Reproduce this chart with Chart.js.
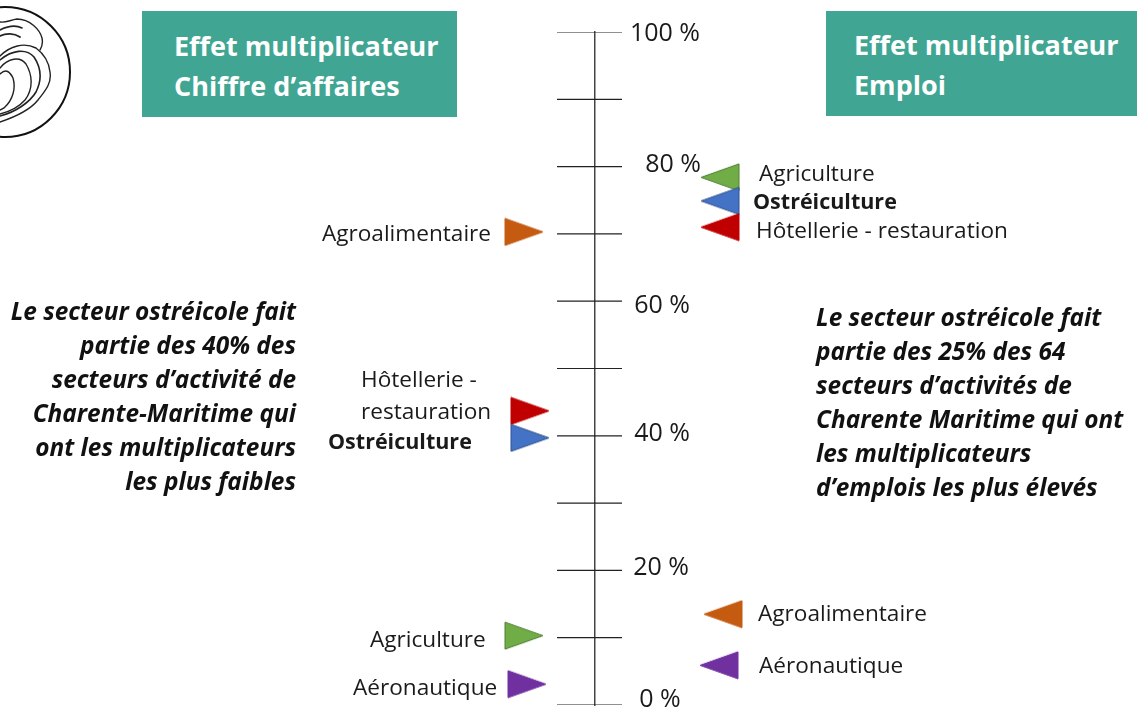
<!DOCTYPE html>
<html lang="fr">
<head>
<meta charset="utf-8">
<title>Effet multiplicateur</title>
<script src="https://cdn.jsdelivr.net/npm/chart.js@4"></script>
<style>
    html, body { margin: 0; padding: 0; background: #fff; overflow: hidden; }
    #page { position: relative; width: 1137px; height: 708px; overflow: hidden; font-family: "Open Sans", sans-serif; }
    #chart { position: absolute; left: 0; top: 0; }
    .box { position: absolute; background: #40A693; color: #fff; font-weight: 700; font-size: 27px; line-height: 40px; box-sizing: border-box; white-space: nowrap; }
    .note { position: absolute; font-style: italic; font-weight: 700; font-size: 24.4px; line-height: 34px; color: #111; white-space: nowrap; }
    #logo { position: absolute; left: 0; top: 0; }
</style>
</head>
<body>
<div id="page">
    <canvas id="chart" width="1137" height="708"></canvas>
    <svg id="logo" width="80" height="145" fill="none" stroke="#222" stroke-linecap="round">
        <circle cx="5" cy="72" r="65" stroke="#111" stroke-width="2"/>
        <path d="M0 22 C6 23 10 20 17 19 C30 19 40 30 42 38 C43 43 42 47 40 50" stroke-width="1.4"/>
        <path d="M0 30 C8 26 16 25 22 28" stroke-width="1.6"/>
        <path d="M0 36 C6 33 14 33 20 37" stroke-width="1.8"/>
        <path d="M0 56 C10 46 24 42 36 48 C44 54 49 62 50 72 C52 84 44 92 38 100 C30 110 12 118 0 122" stroke-width="1.4"/>
        <path d="M0 60 C12 50 26 48 34 57 C40 66 43 78 36 92 C30 102 16 112 0 116" stroke-width="1.6"/>
        <path d="M0 68 C8 58 20 56 26 64 C32 74 34 88 25 100 C18 108 8 112 0 114" stroke-width="1.4"/>
        <path d="M0 74 C6 68 10 72 13 78 C16 88 13 100 4 108 L0 110" stroke-width="1.4"/>
    </svg>
    <div class="box" style="left:142px;top:11px;width:315px;height:106px;padding:15px 0 0 32px">Effet multiplicateur<br>Chiffre d’affaires</div>
    <div class="box" style="left:826px;top:11px;width:311px;height:105px;padding:14px 0 0 28px">Effet multiplicateur<br>Emploi</div>
    <div class="note" style="right:841px;top:294px;text-align:right">Le secteur ostréicole fait<br>partie des 40% des<br>secteurs d’activité de<br>Charente-Maritime qui<br>ont les multiplicateurs<br>les plus faibles</div>
    <div class="note" style="left:816px;top:300px">Le secteur ostréicole fait<br>partie des 25% des 64<br>secteurs d’activités de<br>Charente Maritime qui ont<br>les multiplicateurs<br>d’emplois les plus élevés</div>
</div>
<script>
// values
const axisTicks = [0, 10, 20, 30, 40, 50, 60, 70, 80, 90, 100];
const axisLabels = ['0 %', '20 %', '40 %', '60 %', '80 %', '100 %'];
const axisLabelValues = [0, 20, 40, 60, 80, 100];

const caSectors = ['Agroalimentaire', 'Hôtellerie - restauration', 'Ostréiculture', 'Agriculture', 'Aéronautique'];
const caValues = [70.3, 43.7, 39.7, 10.3, 3.1];

const emploiSectors = ['Agriculture', 'Ostréiculture', 'Hôtellerie - restauration', 'Agroalimentaire', 'Aéronautique'];
const emploiValues = [78.4, 74.9, 71.0, 13.5, 5.9];

// layout and style only
const sectorColors = {
    'Agroalimentaire': ['#C55A11', '#C55A11'],
    'Hôtellerie - restauration': ['#C00000', '#C00000'],
    'Ostréiculture': ['#4472C4', '#2F528F'],
    'Agriculture': ['#70AD47', '#507E32'],
    'Aéronautique': ['#7030A0', '#7030A0']
};
const caFlagX = [-71, -65, -65, -71, -68];
const emploiFlagX = [125, 125, 125, 128, 124];
const caLabelPos = [[491, 'right', 3], [361, 'left', 2], [328, 'left', 5], [370, 'left', 5], [353, 'left', 4]];
const emploiLabelPos = [[759, 'left', -3], [753, 'left', 2], [756, 'left', 4], [758, 'left', 0], [759, 'left', 1]];
const axisLabelPos = [[660, -5], [661, -3], [662, -2], [662, 5], [673, -2], [665, 2]];

function makeFlag(colors, dir) {
    const w = 40, h = 29;
    const c = document.createElement('canvas');
    c.width = w; c.height = h;
    const g = c.getContext('2d');
    g.beginPath();
    if (dir === 'right') {
        g.moveTo(1, 1); g.lineTo(w - 1, h / 2); g.lineTo(1, h - 1);
    } else {
        g.moveTo(w - 1, 1); g.lineTo(1, h / 2); g.lineTo(w - 1, h - 1);
    }
    g.closePath();
    g.fillStyle = colors[0];
    g.fill();
    g.strokeStyle = colors[1];
    g.lineWidth = 1;
    g.stroke();
    return c;
}

const sectorLabels = {
    id: 'sectorLabels',
    afterDatasetsDraw(chart) {
        const ctx = chart.ctx;
        const y = chart.scales.y;
        ctx.save();
        ctx.fillStyle = '#1a1a1a';
        ctx.textBaseline = 'middle';

        const fontFor = name => name === 'Ostréiculture' ? '700 21.5px "Open Sans"' : '400 22.6px "Open Sans"';
        const put = (sectors, values, pos) => {
            sectors.forEach((name, i) => {
                ctx.font = fontFor(name);
                ctx.textAlign = pos[i][1];
                ctx.fillText(name, pos[i][0], y.getPixelForValue(values[i]) + pos[i][2]);
            });
        };
        // the left hand Hôtellerie label breaks over two lines in the original
        put(caSectors.filter((s, i) => i !== 1), caValues.filter((v, i) => i !== 1), caLabelPos.filter((p, i) => i !== 1));
        ctx.font = fontFor(caSectors[1]);
        ctx.textAlign = 'left';
        const hotel = y.getPixelForValue(caValues[1]) + caLabelPos[1][2];
        ctx.fillText('Hôtellerie -', caLabelPos[1][0], hotel - 32);
        ctx.fillText('restauration', caLabelPos[1][0], hotel);

        put(emploiSectors, emploiValues, emploiLabelPos);

        ctx.font = '400 25px "Open Sans"';
        ctx.textAlign = 'center';
        axisLabels.forEach((label, i) => {
            ctx.fillText(label, axisLabelPos[i][0], y.getPixelForValue(axisLabelValues[i]) + axisLabelPos[i][1]);
        });
        ctx.restore();
    }
};

new Chart(document.getElementById('chart'), {
    type: 'scatter',
    data: {
        datasets: [
            {
                label: 'Graduations',
                data: axisTicks.map(v => ({ x: -5.5, y: v })),
                pointStyle: 'line',
                pointRadius: 32.5,
                pointBorderWidth: 1.2,
                pointBorderColor: '#222',
                order: 2
            },
            {
                label: 'Chiffre d’affaires',
                data: caValues.map((v, i) => ({ x: caFlagX[i], y: v })),
                pointStyle: caSectors.map(s => makeFlag(sectorColors[s], 'right')),
                pointRadius: 20,
                order: 1
            },
            {
                label: 'Emploi',
                data: emploiValues.map((v, i) => ({ x: emploiFlagX[i], y: v })),
                pointStyle: emploiSectors.map(s => makeFlag(sectorColors[s], 'left')),
                pointRadius: 20,
                order: 1
            }
        ]
    },
    options: {
        responsive: false,
        animation: false,
        layout: { autoPadding: false, padding: { top: 32, bottom: 3, left: 0, right: 0 } },
        plugins: { legend: { display: false }, tooltip: { enabled: false } },
        scales: {
            x: { type: 'linear', min: -595, max: 542, display: false },
            y: {
                type: 'linear',
                min: 0,
                max: 100,
                position: { x: 0 },
                grid: { display: false },
                border: { display: true, color: '#444', width: 1.5 },
                ticks: { display: false, stepSize: 10 }
            }
        }
    },
    plugins: [sectorLabels]
});
</script>
</body>
</html>
